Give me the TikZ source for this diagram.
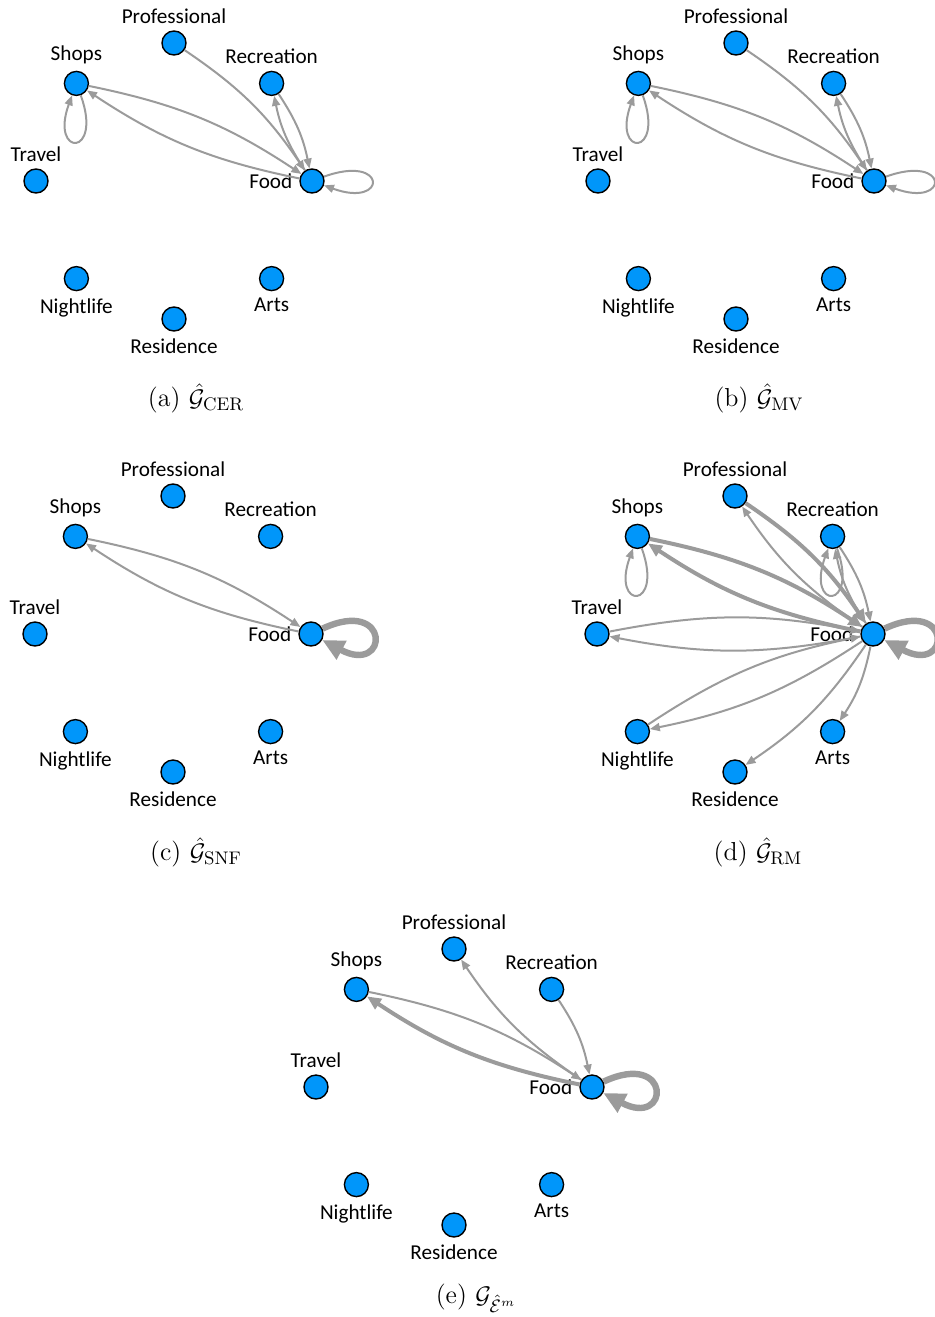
\documentclass[tikz,border=0pt]{standalone}
\usepackage{amsmath}
\usepackage{fontspec}
\newfontfamily\labelfont{Carlito}
\usetikzlibrary{arrows.meta}

\definecolor{nodeblue}{RGB}{0,150,250}
\definecolor{edgegray}{RGB}{155,155,155}

\tikzset{
  place/.style={circle, draw=black, fill=nodeblue, line width=0.7pt, minimum size=12pt, inner sep=0pt},
  every label/.style={font=\labelfont\fontsize{10.6pt}{12pt}\selectfont, text=black, inner sep=3.3pt},
  caption/.style={font=\fontsize{13pt}{16pt}\selectfont},
  link/.style={draw=edgegray, line width=1pt, -{Triangle[length=5pt,width=4pt]}},
  heavy/.style={draw=edgegray, line width=2pt, -{Triangle[length=7pt,width=6pt]}},
  heaviest/.style={draw=edgegray, line width=3.2pt, -{Triangle[length=11pt,width=10pt]}},
}

\begin{document}
\begin{tikzpicture}[x=0.5pt, y=-0.5pt]
\useasboundingbox (0,0) rectangle (935,1317);

% the eight places of every panel
\foreach \p/\cx/\cy in {a/174/181, b/736/181, c/173/634, d/735/634, e/454/1087} {
  \node[place, label=above:Professional] (\p-pro) at (\cx, \cy-138) {};
  \node[place, label=above:Shops] (\p-shp) at (\cx-97.6, \cy-97.6) {};
  \node[place, label=above:Recreation] (\p-rec) at (\cx+97.6, \cy-97.6) {};
  \node[place, label=above:Travel] (\p-trv) at (\cx-138, \cy) {};
  \node[place, label=left:Food] (\p-food) at (\cx+138, \cy) {};
  \node[place, label=below:Nightlife] (\p-ngt) at (\cx-97.6, \cy+97.6) {};
  \node[place, label=below:Residence] (\p-res) at (\cx, \cy+138) {};
  \node[place, label=below:Arts] (\p-art) at (\cx+97.6, \cy+97.6) {};
}

% (a) and (b)
\foreach \p in {a, b} {
  \draw[link] (\p-shp) to[out=-70, in=-110, distance=33pt] (\p-shp);
  \draw[link] (\p-shp) to[bend left=11] (\p-food);
  \draw[link] (\p-food) to[bend left=11] (\p-shp);
  \draw[link] (\p-pro) to[bend left=11] (\p-food);
  \draw[link] (\p-rec) to[bend left=11] (\p-food);
  \draw[link] (\p-food) to[bend left=11] (\p-rec);
  \draw[link] (\p-food) to[out=20, in=-20, distance=34pt] (\p-food);
}

% (c)
\draw[link] (c-shp) to[bend left=11] (c-food);
\draw[link] (c-food) to[bend left=11] (c-shp);
\draw[heaviest] (c-food) to[out=25, in=-28, distance=38pt] (c-food);

% (d)
\draw[link] (d-shp) to[out=-70, in=-110, distance=33pt] (d-shp);
\draw[heavy] (d-shp) to[bend left=11] (d-food);
\draw[heavy] (d-food) to[bend left=11] (d-shp);
\draw[heavy] (d-pro) to[bend left=11] (d-food);
\draw[link] (d-food) to[bend left=11] (d-pro);
\draw[link] (d-rec) to[out=-70, in=-110, distance=33pt] (d-rec);
\draw[link] (d-rec) to[bend left=11] (d-food);
\draw[link] (d-food) to[bend left=11] (d-rec);
\draw[link] (d-trv) to[bend left=11] (d-food);
\draw[link] (d-food) to[bend left=11] (d-trv);
\draw[link] (d-ngt) to[bend left=11] (d-food);
\draw[link] (d-food) to[bend left=11] (d-ngt);
\draw[link] (d-food) to[bend left=11] (d-res);
\draw[link] (d-food) to[bend left=11] (d-art);
\draw[heaviest] (d-food) to[out=25, in=-28, distance=38pt] (d-food);

% (e)
\draw[link] (e-shp) to[bend left=11] (e-food);
\draw[heavy] (e-food) to[bend left=11] (e-shp);
\draw[link] (e-food) to[bend left=11] (e-pro);
\draw[link] (e-rec) to[bend left=11] (e-food);
\draw[heaviest] (e-food) to[out=25, in=-28, distance=38pt] (e-food);

% captions
\node[caption] (cap-a) at (196,398) {(a) $\hat{\mathcal{G}}_{\mathrm{CER}}$};
\node[caption] (cap-b) at (759,398) {(b) $\hat{\mathcal{G}}_{\mathrm{MV}}$};
\node[caption] (cap-c) at (196,852) {(c) $\hat{\mathcal{G}}_{\mathrm{SNF}}$};
\node[caption] (cap-d) at (758,852) {(d) $\hat{\mathcal{G}}_{\mathrm{RM}}$};
\node[caption] (cap-e) at (476,1298) {(e) $\mathcal{G}_{\hat{\mathcal{E}}^m}$};
\end{tikzpicture}
\end{document}
